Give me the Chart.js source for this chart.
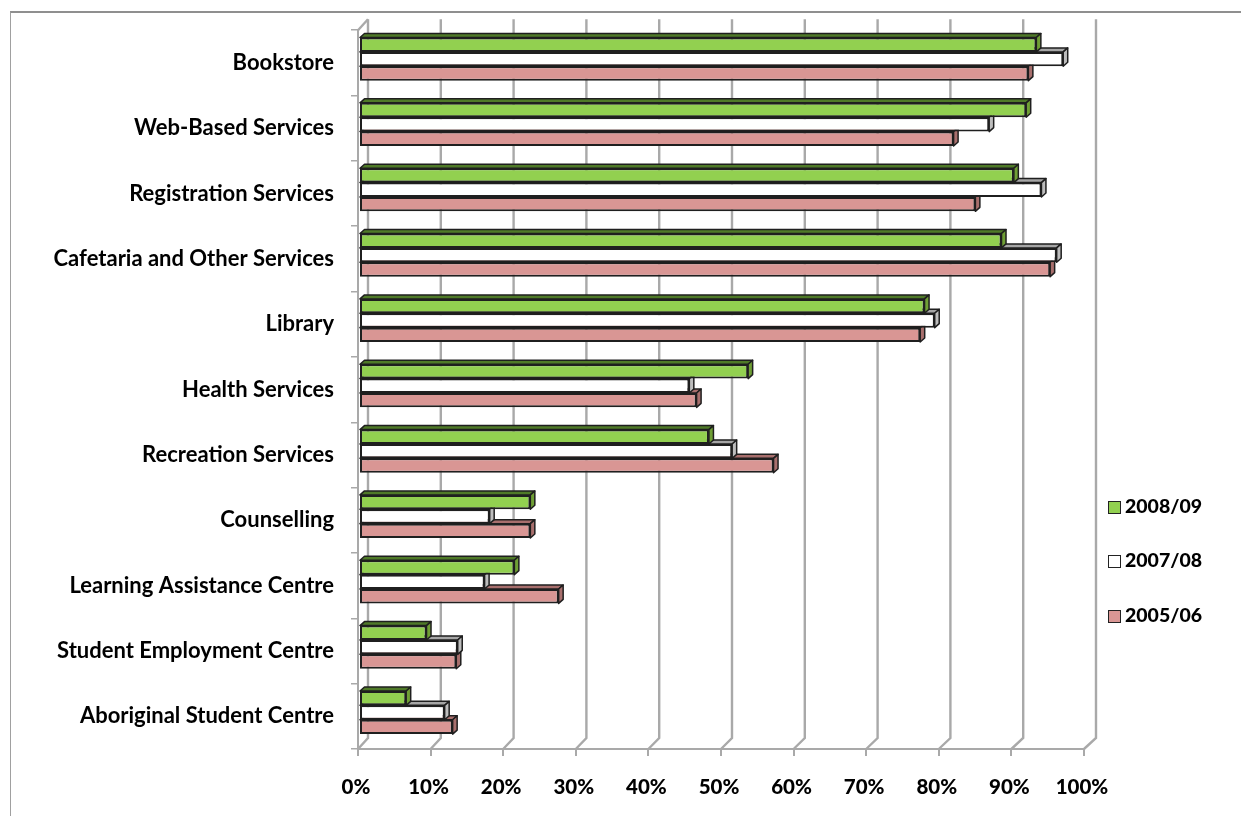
<!DOCTYPE html>
<html>
<head>
<meta charset="utf-8">
<script src="https://cdn.jsdelivr.net/npm/chart.js@4"></script>
<style>
  html, body { margin: 0; padding: 0; background: #fff; }
  #wrap { position: relative; width: 1241px; height: 816px; overflow: hidden; }
  #frame { position: absolute; left: 10px; top: 11px; width: 1231px; height: 805px;
           border-top: 2px solid #8f8f8f; border-left: 1px solid #a0a0a0; box-sizing: border-box; }
  canvas { position: absolute; left: 0; top: 0; filter: blur(0.4px); }
  .leg { position: absolute; left: 1108px; height: 13px; font: 900 19.5px Lato, sans-serif; color: #000; }
  .leg i { position: absolute; left: 0; top: 0; width: 11px; height: 11px; border: 1px solid #222; }
  .leg span { position: absolute; left: 17px; top: -7px; line-height: 24px; white-space: nowrap; }
</style>
</head>
<body>
<div id="wrap">
  <div id="frame"></div>
  <canvas id="chart" width="1241" height="816"></canvas>
  <div id="legend"></div>
</div>
<script>
const categories = ["Bookstore", "Web-Based Services", "Registration Services", "Cafetaria and Other Services",
  "Library", "Health Services", "Recreation Services", "Counselling", "Learning Assistance Centre",
  "Student Employment Centre", "Aboriginal Student Centre"];
const values0809 = [93.3, 91.9, 90.2, 88.5, 77.9, 53.6, 48.2, 23.6, 21.4, 9.3, 6.5];
const values0708 = [97.0, 86.8, 94.0, 96.1, 79.3, 45.5, 51.4, 18.0, 17.3, 13.6, 11.8];
const values0506 = [92.2, 81.9, 84.9, 95.2, 77.3, 46.5, 57.1, 23.6, 27.5, 13.4, 12.9];
const seriesNames = ["2008/09", "2007/08", "2005/06"];
const xTicks = [0, 10, 20, 30, 40, 50, 60, 70, 80, 90, 100];

const fills = ["#92d050", "#ffffff", "#d99694"];
const topFaces = ["#4f7a28", "#a6a6a6", "#a86f6d"];
const sideFaces = ["#6f9f35", "#bdbdbd", "#a86f6d"];
const legendTops = [501, 555, 610];
const wallColor = "#a9a9a9";
const edge = "#1f1f1f";

// legend is plain html, it sits low on the right and not centred on the plot
seriesNames.forEach((name, i) => {
  const row = document.createElement("div");
  row.className = "leg";
  row.style.top = legendTops[i] + "px";
  row.innerHTML = `<i style="background:${fills[i]}"></i><span>${name}</span>`;
  document.getElementById("legend").appendChild(row);
});

function poly(ctx, pts, fill) {
  ctx.beginPath();
  pts.forEach((p, i) => (i ? ctx.lineTo(p[0], p[1]) : ctx.moveTo(p[0], p[1])));
  ctx.closePath();
  ctx.fillStyle = fill;
  ctx.fill();
  ctx.stroke();
}

// fake 3d: back wall + floor behind, and depth faces per dataset
const fake3d = {
  id: "fake3d",
  beforeDatasetsDraw(chart) {
    const { ctx, scales: { x, y } } = chart;
    ctx.save();
    ctx.strokeStyle = wallColor;
    ctx.lineWidth = 2.4;
    xTicks.forEach(v => {
      const front = x.getPixelForValue(v);
      const back = front + 10 + v * 0.02;
      ctx.beginPath();
      ctx.moveTo(front, y.bottom);
      ctx.lineTo(back, y.bottom - 11);
      ctx.lineTo(back, y.top - 11);
      ctx.stroke();
    });
    // left wall top corner
    ctx.beginPath();
    ctx.moveTo(x.left, y.top);
    ctx.lineTo(x.left + 10, y.top - 11);
    ctx.stroke();
    ctx.restore();
  },
  beforeDatasetDraw(chart, args) {
    const { ctx } = chart;
    const dx = 4.5, dy = 4;
    ctx.save();
    // bars sit a bit in from the front plane
    ctx.translate(1, -3.8);
    ctx.strokeStyle = edge;
    ctx.lineWidth = 1.5;
    ctx.lineJoin = "round";
    chart.getDatasetMeta(args.index).data.forEach(bar => {
      const t = bar.y - bar.height / 2, b = bar.y + bar.height / 2;
      const l = bar.base, r = bar.x;
      poly(ctx, [[l, t], [l + dx, t - dy], [r + dx, t - dy], [r, t]], topFaces[args.index]);
      poly(ctx, [[r, t], [r + dx, t - dy], [r + dx, b - dy], [r, b]], sideFaces[args.index]);
    });
  },
  afterDatasetDraw(chart) {
    chart.ctx.restore();
  }
};

new Chart(document.getElementById("chart"), {
  type: "bar",
  data: {
    labels: categories,
    datasets: [values0809, values0708, values0506].map((vals, i) => ({
      label: seriesNames[i],
      data: vals,
      backgroundColor: fills[i],
      borderColor: edge,
      borderWidth: 2,
      borderSkipped: false,
      categoryPercentage: 0.66,
      barPercentage: 1
    }))
  },
  options: {
    indexAxis: "y",
    responsive: false,
    animation: false,
    events: [],
    layout: { padding: { top: 29, right: 157, left: 0, bottom: 0 } },
    plugins: { legend: { display: false }, tooltip: { enabled: false } },
    scales: {
      x: {
        min: 0,
        max: 100,
        afterFit(s) { s.height = 67; },
        afterBuildTicks(s) { s.ticks = xTicks.map(v => ({ value: v })); },
        grid: { drawOnChartArea: false, color: wallColor, lineWidth: 2, tickLength: 7 },
        border: { color: wallColor, width: 2 },
        ticks: {
          padding: 19,
          maxRotation: 0,
          labelOffset: -2,
          color: "#000",
          font: { family: "Lato", weight: "900", size: 20.5 },
          callback: v => v + "%"
        }
      },
      y: {
        afterFit(s) { s.width = 358; },
        grid: { drawOnChartArea: false, color: wallColor, lineWidth: 1.5, tickLength: 7 },
        border: { color: wallColor, width: 2 },
        ticks: {
          padding: 17,
          color: "#000",
          font: { family: "Lato", weight: "bold", size: 22 }
        }
      }
    }
  },
  plugins: [fake3d]
});
</script>
</body>
</html>
